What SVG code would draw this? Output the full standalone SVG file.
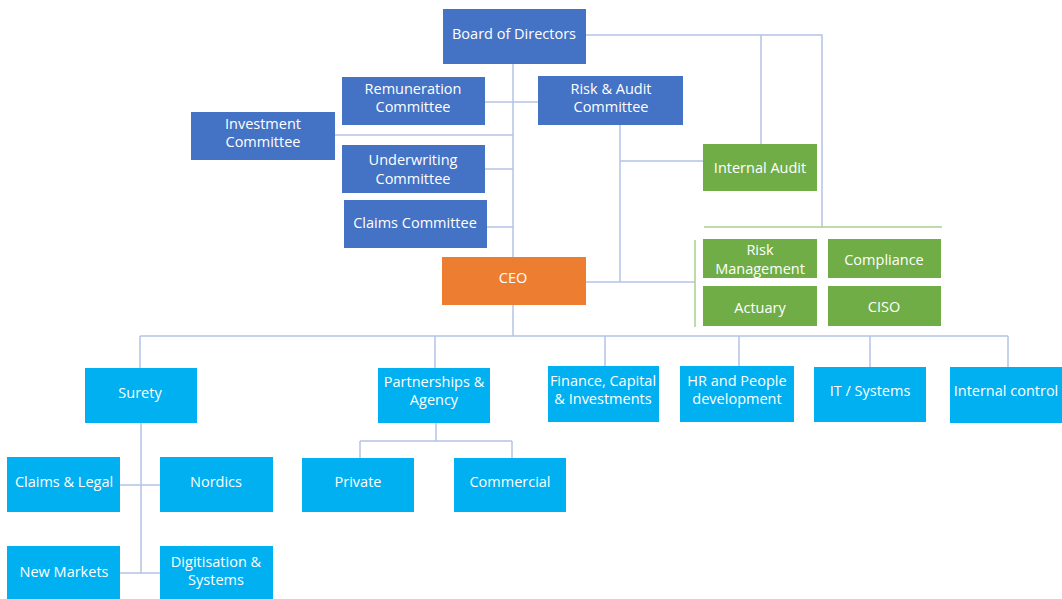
<svg xmlns="http://www.w3.org/2000/svg" width="1062" height="599" viewBox="0 0 1062 599">
<style>
text{font-family:"Open Sans","Noto Sans","Liberation Sans",sans-serif;font-size:14.5px;fill:#fff;text-anchor:middle;dominant-baseline:central}
.b{fill:#4472C4}
.o{fill:#ED7D31}
.g{fill:#70AD47}
.c{fill:#00B0F0}
.ln{stroke:#B4C3E6;stroke-width:1.5;fill:none}
.gl{stroke:#A9D18E;stroke-width:1.5;fill:none}
</style>
<rect width="1062" height="599" fill="#fff"/>
<g id="connectors">
<path class="ln" d="M513,64V336"/>
<path class="ln" d="M586,35H822V227M761,35V144"/>
<path class="ln" d="M485,102H538"/>
<path class="ln" d="M335,135H513"/>
<path class="ln" d="M485,169H513"/>
<path class="ln" d="M487,227H513"/>
<path class="ln" d="M620,125V282M620,161H703"/>
<path class="ln" d="M586,282H695"/>
<path class="gl" d="M704,227H942"/>
<path class="gl" d="M695,240V327"/>
<path class="ln" d="M140,336H1008M140,336V368M435,336V368M605,336V366M739,336V366M870,336V367M1008,336V367"/>
<path class="ln" d="M141,423V573M120,485H160M120,573H160"/>
<path class="ln" d="M436,423V441M360,441H512M360,441V458M512,441V458"/>
</g>
<g id="board"><rect class="b" x="443" y="9" width="143" height="55"/><text x="514" y="33">Board of Directors</text></g>
<g id="remuneration"><rect class="b" x="342" y="77" width="143" height="48"/><text x="413" y="88">Remuneration</text><text x="413" y="106">Committee</text></g>
<g id="riskaudit"><rect class="b" x="538" y="76" width="145" height="49"/><text x="611" y="88">Risk &amp; Audit</text><text x="611" y="106">Committee</text></g>
<g id="investment"><rect class="b" x="191" y="112" width="144" height="48"/><text x="263" y="123">Investment</text><text x="263" y="141">Committee</text></g>
<g id="underwriting"><rect class="b" x="342" y="145" width="143" height="48"/><text x="413" y="159">Underwriting</text><text x="413" y="178">Committee</text></g>
<g id="claimscommittee"><rect class="b" x="344" y="200" width="143" height="48"/><text x="415" y="222">Claims Committee</text></g>
<g id="ceo"><rect class="o" x="442" y="257" width="144" height="48"/><text x="513" y="277">CEO</text></g>
<g id="internalaudit"><rect class="g" x="703" y="144" width="114" height="47"/><text x="760" y="167">Internal Audit</text></g>
<g id="riskmanagement"><rect class="g" x="703" y="239" width="114" height="39"/><text x="760" y="249">Risk</text><text x="760" y="268">Management</text></g>
<g id="compliance"><rect class="g" x="828" y="239" width="113" height="39"/><text x="884" y="259">Compliance</text></g>
<g id="actuary"><rect class="g" x="703" y="286" width="114" height="40"/><text x="760" y="307">Actuary</text></g>
<g id="ciso"><rect class="g" x="828" y="286" width="113" height="40"/><text x="884" y="306">CISO</text></g>
<g id="surety"><rect class="c" x="85" y="368" width="112" height="55"/><text x="140" y="392">Surety</text></g>
<g id="partnerships"><rect class="c" x="378" y="368" width="112" height="55"/><text x="434" y="381">Partnerships &amp;</text><text x="434" y="399">Agency</text></g>
<g id="finance"><rect class="c" x="548" y="366" width="111" height="56"/><text x="603" y="380">Finance, Capital</text><text x="603" y="398">&amp; Investments</text></g>
<g id="hr"><rect class="c" x="680" y="366" width="114" height="56"/><text x="737" y="380">HR and People</text><text x="737" y="398">development</text></g>
<g id="it"><rect class="c" x="814" y="367" width="112" height="55"/><text x="870" y="390">IT / Systems</text></g>
<g id="internalcontrol"><rect class="c" x="950" y="367" width="112" height="56"/><text x="1006" y="390">Internal control</text></g>
<g id="claimslegal"><rect class="c" x="7" y="457" width="113" height="55"/><text x="64" y="481">Claims &amp; Legal</text></g>
<g id="nordics"><rect class="c" x="160" y="457" width="113" height="55"/><text x="216" y="481">Nordics</text></g>
<g id="private"><rect class="c" x="302" y="458" width="112" height="54"/><text x="358" y="481">Private</text></g>
<g id="commercial"><rect class="c" x="454" y="458" width="112" height="54"/><text x="510" y="481">Commercial</text></g>
<g id="newmarkets"><rect class="c" x="7" y="546" width="113" height="60"/><text x="64" y="571">New Markets</text></g>
<g id="digitisation"><rect class="c" x="160" y="546" width="113" height="60"/><text x="216" y="561">Digitisation &amp;</text><text x="216" y="579">Systems</text></g>
</svg>
